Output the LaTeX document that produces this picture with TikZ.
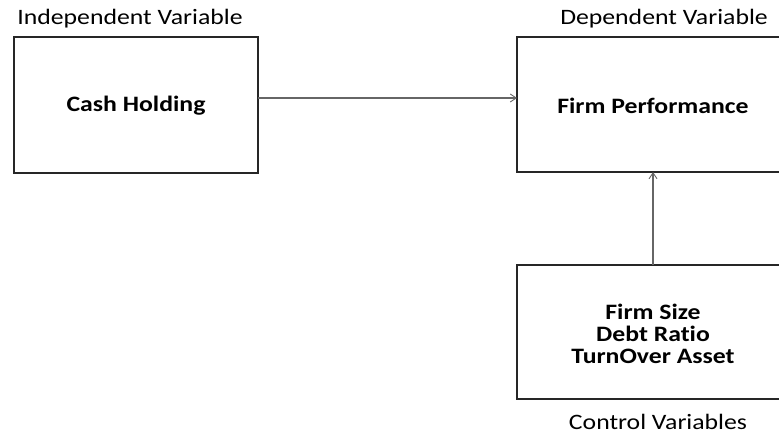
\documentclass[tikz,border=0pt]{standalone}
\usepackage{fontspec}
\setmainfont{Carlito}[FakeStretch=1.17,Ligatures={NoCommon}]
\usetikzlibrary{arrows.meta}
\begin{document}
\begin{tikzpicture}[x=1pt,y=-1pt,
  box/.style={draw=black!85,line width=1.6pt},
  conn/.style={draw=black!60,line width=1.1pt,-{Straight Barb[length=6pt,width=8pt,line width=0.9pt]}},
  boxtext/.style={font=\fontsize{22}{21.7}\selectfont\bfseries,align=center},
  lbl/.style={font=\fontsize{22}{24}\selectfont,inner sep=0pt}]
\useasboundingbox (0,0) rectangle (779,434);
\draw[box] (14,37) rectangle (258,173);
\node[boxtext] (cash) at (136,106) {Cash Holding};
\draw[box] (517,37) rectangle (790,172);
\node[boxtext] (perf) at (653,106) {Firm Performance};
\draw[box] (517,265) rectangle (790,399);
\node[boxtext] (ctrl) at (653,334) {Firm Size\\Debt Ratio\\TurnOver Asset};
\node[lbl] (iv) at (130,19) {Independent Variable};
\node[lbl] (dv) at (664,19) {Dependent Variable};
\node[lbl] (cv) at (658,422) {Control Variables};
\coordinate (a1) at (258,98);
\coordinate (a2) at (517,98);
\coordinate (b1) at (653,265);
\coordinate (b2) at (653,172);
\draw[conn] (a1) -- (a2);
\draw[conn] (b1) -- (b2);
\end{tikzpicture}
\end{document}
